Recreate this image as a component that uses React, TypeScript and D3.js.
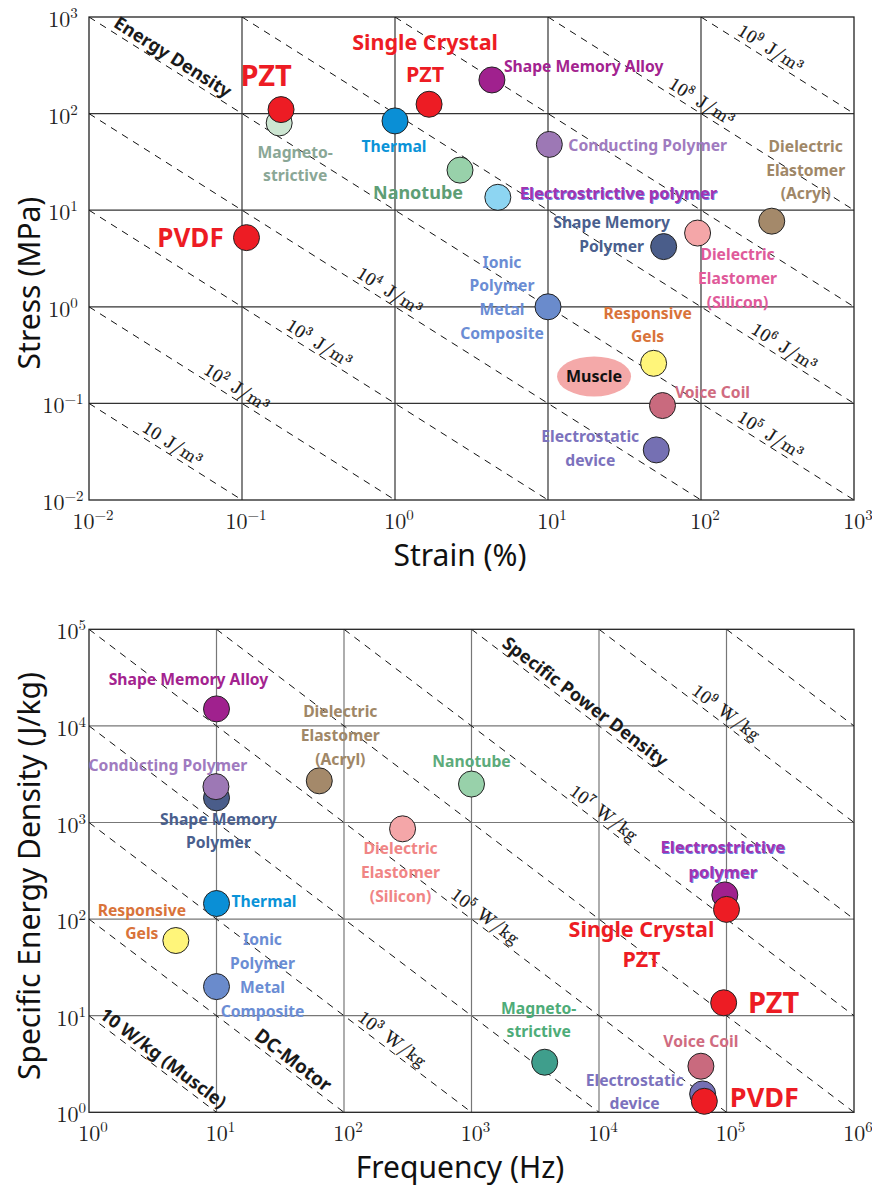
import * as d3 from "d3";

const W = 872;
const H = 1190;

// ---------- top panel: stress vs strain ----------
const topNames = [
  "Magnetostrictive", "PZT", "Thermal", "Single Crystal PZT", "Shape Memory Alloy",
  "Conducting Polymer", "Nanotube", "Electrostrictive Polymer", "Dielectric Elastomer (Acryl)",
  "Dielectric Elastomer (Silicon)", "Shape Memory Polymer", "PVDF",
  "Ionic Polymer Metal Composite", "Responsive Gels", "Voice Coil", "Electrostatic Device",
];
const topStrain = [0.175, 0.18, 1.0, 1.67, 4.3, 10.2, 2.66, 4.7, 290, 95, 57, 0.107, 10, 49, 56, 51];
const topStress = [80, 110, 84, 125, 223, 48, 26, 13.6, 7.7, 5.8, 4.2, 5.2, 1.0, 0.26, 0.095, 0.033];
const muscleStrain = 20;
const muscleStress = 0.19;
// energy density lines, J/m^3 (strain% * MPa * 1e4)
const energyLevels = [1e1, 1e2, 1e3, 1e4, 1e5, 1e6, 1e7, 1e8, 1e9];
const topTicks = [1e-2, 1e-1, 1e0, 1e1, 1e2, 1e3];

// ---------- bottom panel: specific energy vs frequency ----------
const botNames = [
  "Shape Memory Polymer", "Conducting Polymer", "Shape Memory Alloy", "Dielectric Elastomer (Acryl)",
  "Dielectric Elastomer (Silicon)", "Nanotube", "Thermal", "Responsive Gels",
  "Ionic Polymer Metal Composite", "Electrostrictive Polymer", "Single Crystal PZT", "PZT",
  "Magnetostrictive", "Voice Coil", "Electrostatic Device", "PVDF",
];
const botFreq = [10, 9.9, 10, 64, 288, 1000, 10, 4.8, 10, 97000, 100000, 95000, 3750, 63000, 65000, 67000];
const botEnergy = [1800, 2350, 15000, 2700, 860, 2500, 145, 60, 20, 178, 126, 13.6, 3.3, 3.0, 1.55, 1.3];
// specific power lines, W/kg
const powerLevels = [1e1, 1e2, 1e3, 1e4, 1e5, 1e6, 1e7, 1e8, 1e9, 1e10];
const botXTicks = [1e0, 1e1, 1e2, 1e3, 1e4, 1e5, 1e6];
const botYTicks = [1e0, 1e1, 1e2, 1e3, 1e4, 1e5];

// ---------- styles ----------
const RED = "#ed1c24";
const fill: Record<string, string> = {
  "PZT": RED, "Single Crystal PZT": RED, "PVDF": RED,
  "Thermal": "#0a8fd6", "Shape Memory Alloy": "#a0218e", "Conducting Polymer": "#9d78b5",
  "Nanotube": "#98d1aa", "Dielectric Elastomer (Acryl)": "#a4896a",
  "Dielectric Elastomer (Silicon)": "#f4a6a8", "Shape Memory Polymer": "#4a5d8a",
  "Ionic Polymer Metal Composite": "#6a8bcc", "Responsive Gels": "#fff57a",
  "Voice Coil": "#c96a7e", "Electrostatic Device": "#7570b3",
};
const topFill: Record<string, string> = { ...fill, "Magnetostrictive": "#cde6d2", "Electrostrictive Polymer": "#8dd5f2" };
const botFill: Record<string, string> = { ...fill, "Magnetostrictive": "#3f9e8c", "Electrostrictive Polymer": "#a0218e" };

type Lab = { lines: string[]; dx: number; dy: number; color: string; size?: number; lh?: number; anchor?: string; shadow?: boolean };

const topLabels: Record<string, Lab> = {
  "PZT": { lines: ["PZT"], dx: -15, dy: -34, color: RED, size: 29 },
  "Single Crystal PZT": { lines: ["Single Crystal", "PZT"], dx: -4, dy: -46, color: RED, size: 21.5, lh: 32 },
  "Magnetostrictive": { lines: ["Magneto-", "strictive"], dx: 16, dy: 41, color: "#8aa796", lh: 23 },
  "Thermal": { lines: ["Thermal"], dx: -1, dy: 26, color: "#0a93d8" },
  "Nanotube": { lines: ["Nanotube"], dx: -42, dy: 23, color: "#5e9e75", size: 18 },
  "Shape Memory Alloy": { lines: ["Shape Memory Alloy"], dx: 12, dy: -13, color: "#a3238f", anchor: "start" },
  "Conducting Polymer": { lines: ["Conducting Polymer"], dx: 19, dy: 1, color: "#a07bbf", anchor: "start" },
  "Electrostrictive Polymer": { lines: ["Electrostrictive polymer"], dx: 22, dy: -4, color: "#a134b0", anchor: "start", shadow: true, size: 16.5 },
  "Dielectric Elastomer (Acryl)": { lines: ["Dielectric", "Elastomer", "(Acryl)"], dx: 34, dy: -51, color: "#a08767", lh: 23.5 },
  "Dielectric Elastomer (Silicon)": { lines: ["Dielectric", "Elastomer", "(Silicon)"], dx: 40, dy: 45, color: "#e05a9a", lh: 24 },
  "Shape Memory Polymer": { lines: ["Shape Memory", "Polymer"], dx: -52, dy: -12, color: "#4a5f8e", lh: 24 },
  "PVDF": { lines: ["PVDF"], dx: -56, dy: 0, color: RED, size: 26 },
  "Ionic Polymer Metal Composite": { lines: ["Ionic", "Polymer", "Metal", "Composite"], dx: -46, dy: -9, color: "#6b8dd4", lh: 23.7 },
  "Responsive Gels": { lines: ["Responsive", "Gels"], dx: -6, dy: -38, color: "#d9733a", lh: 23 },
  "Voice Coil": { lines: ["Voice Coil"], dx: 50, dy: -13, color: "#d06b80" },
  "Electrostatic Device": { lines: ["Electrostatic", "device"], dx: -66, dy: -1, color: "#7c72bd", lh: 24 },
};

const botLabels: Record<string, Lab> = {
  "Shape Memory Alloy": { lines: ["Shape Memory Alloy"], dx: -28, dy: -29, color: "#a3238f" },
  "Conducting Polymer": { lines: ["Conducting Polymer"], dx: -48, dy: -21, color: "#a07bbf" },
  "Shape Memory Polymer": { lines: ["Shape Memory", "Polymer"], dx: 2, dy: 33, color: "#4a5f8e", lh: 23.5 },
  "Dielectric Elastomer (Acryl)": { lines: ["Dielectric", "Elastomer", "(Acryl)"], dx: 21, dy: -45, color: "#a08767", lh: 24 },
  "Dielectric Elastomer (Silicon)": { lines: ["Dielectric", "Elastomer", "(Silicon)"], dx: -2, dy: 43.5, color: "#f08585", lh: 24 },
  "Nanotube": { lines: ["Nanotube"], dx: 0, dy: -23, color: "#5dab7b" },
  "Thermal": { lines: ["Thermal"], dx: 15, dy: -2, color: "#0a93d8", anchor: "start" },
  "Responsive Gels": { lines: ["Responsive", "Gels"], dx: -34, dy: -18.5, color: "#d9733a", lh: 23 },
  "Ionic Polymer Metal Composite": { lines: ["Ionic", "Polymer", "Metal", "Composite"], dx: 46, dy: -11.5, color: "#6b8dd4", lh: 24 },
  "Electrostrictive Polymer": { lines: ["Electrostrictive", "polymer"], dx: -2, dy: -35, color: "#a134b0", lh: 25, shadow: true, size: 16.5 },
  "Single Crystal PZT": { lines: ["Single Crystal", "PZT"], dx: -85, dy: 35, color: RED, size: 21.5, lh: 30 },
  "PZT": { lines: ["PZT"], dx: 50, dy: 0, color: RED, size: 29 },
  "Magnetostrictive": { lines: ["Magneto-", "strictive"], dx: -6, dy: -42.5, color: "#4eac78", lh: 23 },
  "Voice Coil": { lines: ["Voice Coil"], dx: 0, dy: -25, color: "#d06b80" },
  "Electrostatic Device": { lines: ["Electrostatic", "device"], dx: -68, dy: -1.5, color: "#7c72bd", lh: 23 },
  "PVDF": { lines: ["PVDF"], dx: 60, dy: -4, color: RED, size: 27 },
};

// line labels: level -> log10(x) where the label sits on its line
type LineLab = { level: number; at: number; exp?: number; unit?: string; text?: string };
const topLineLabels: LineLab[] = [
  { level: 1e1, at: -1.49, text: "10 J/m³" },
  { level: 1e2, at: -1.07, exp: 2, unit: " J/m³" },
  { level: 1e3, at: -0.53, exp: 3, unit: " J/m³" },
  { level: 1e4, at: -0.07, exp: 4, unit: " J/m³" },
  { level: 1e5, at: 2.42, exp: 5, unit: " J/m³" },
  { level: 1e6, at: 2.51, exp: 6, unit: " J/m³" },
  { level: 1e8, at: 1.97, exp: 8, unit: " J/m³" },
  { level: 1e9, at: 2.42, exp: 9, unit: " J/m³" },
];
const botLineLabels: LineLab[] = [
  { level: 1e3, at: 2.33, exp: 3, unit: " W/kg" },
  { level: 1e5, at: 3.06, exp: 5, unit: " W/kg" },
  { level: 1e7, at: 3.99, exp: 7, unit: " W/kg" },
  { level: 1e9, at: 4.95, exp: 9, unit: " W/kg" },
];

const SANS = "'Comic Sans MS', 'Noto Sans', sans-serif";
const SERIF = "'Latin Modern Roman', 'Liberation Serif', serif";

function Label({ x, y, l }: { x: number; y: number; l: Lab }) {
  const size = l.size ?? 15.7;
  const lh = l.lh ?? 22;
  const n = l.lines.length;
  const anchor = l.anchor ?? "middle";
  const rows = (ox: number, oy: number, color: string) =>
    l.lines.map((s, i) => (
      <text key={i} x={x + l.dx + ox} y={y + l.dy + (i - (n - 1) / 2) * lh + oy} dy="0.35em"
        textAnchor={anchor} fontSize={size} fontWeight="bold" fontFamily={SANS} fill={color}>{s}</text>
    ));
  return (
    <g>
      {l.shadow && rows(0.8, 0.8, "#6a7fe0")}
      {rows(0, 0, l.color)}
    </g>
  );
}

function Pow10({ x, y, e, anchor }: { x: number; y: number; e: number; anchor: string }) {
  const s = e < 0 ? "−" + Math.abs(e) : String(e);
  return (
    <text x={x} y={y} textAnchor={anchor} fontFamily={SERIF} fontSize={22} fill="#222">
      10<tspan dy={-9} fontSize={15}>{s}</tspan>
    </text>
  );
}

function Panel(props: {
  top: number; xDom: [number, number]; yDom: [number, number];
  xTicks: number[]; yTicks: number[]; names: string[]; xs: number[]; ys: number[];
  fills: Record<string, string>; labels: Record<string, Lab>; levels: number[]; levelScale: number;
  lineLabels: LineLab[]; extra: { level: number; at: number; text: string; size: number }[];
  yTickCenter: boolean; gridColor: string; xTitle: string; yTitle: string; yTitleY: number; clip: string;
  muscle?: boolean;
}) {
  const left = 89, right = 854, h = 483;
  const x = d3.scaleLog().domain(props.xDom).range([left, right]);
  const y = d3.scaleLog().domain(props.yDom).range([props.top + h, props.top]);
  const [x0, x1] = props.xDom;
  const [y0, y1] = props.yDom;

  const dashed = props.levels.map((lv) => {
    const c = lv / props.levelScale;
    const xa = Math.max(x0, c / y1);
    const xb = Math.min(x1, c / y0);
    if (xa >= xb) return null;
    return { c, xa, xb };
  }).filter(Boolean) as { c: number; xa: number; xb: number }[];

  const onLine = (level: number, at: number) => {
    const c = level / props.levelScale;
    const xv = Math.pow(10, at);
    const px = x(xv), py = y(c / xv);
    const ang = Math.atan2(y(c / (xv * 10)) - py, x(xv * 10) - px) * 180 / Math.PI;
    return { px, py, ang };
  };

  return (
    <g>
      <defs>
        <clipPath id={props.clip}><rect x={left} y={props.top} width={right - left} height={h} /></clipPath>
      </defs>
      {props.xTicks.slice(1, -1).map((t) => (
        <line key={"gx" + t} x1={x(t)} x2={x(t)} y1={props.top} y2={props.top + h} stroke={props.gridColor} strokeWidth={1.2} />
      ))}
      {props.yTicks.slice(1, -1).map((t) => (
        <line key={"gy" + t} x1={left} x2={right} y1={y(t)} y2={y(t)} stroke={props.gridColor} strokeWidth={1.2} />
      ))}
      <g clipPath={`url(#${props.clip})`}>
        {dashed.map((d) => (
          <line key={"d" + d.c} x1={x(d.xa)} y1={y(d.c / d.xa)} x2={x(d.xb)} y2={y(d.c / d.xb)}
            stroke="#111" strokeWidth={1} strokeDasharray="7,6" />
        ))}
      </g>
      <rect x={left} y={props.top} width={right - left} height={h} fill="none" stroke="#222" strokeWidth={1.3} />

      {props.lineLabels.map((ll, i) => {
        const p = onLine(ll.level, ll.at);
        return (
          <g key={"ll" + i} transform={`translate(${p.px},${p.py}) rotate(${p.ang})`}>
            <text y={-11} dy="0.35em" textAnchor="middle" fontFamily={SERIF} fontSize={18} fill="#111" letterSpacing={0.5}
              stroke="#111" strokeWidth={0.3}>
              {ll.text ? ll.text : (<>10<tspan dy={-7} fontSize={12}>{ll.exp}</tspan><tspan dy={7}>{ll.unit}</tspan></>)}
            </text>
          </g>
        );
      })}
      {props.extra.map((e, i) => {
        const p = onLine(e.level, e.at);
        return (
          <g key={"ex" + i} transform={`translate(${p.px},${p.py}) rotate(${p.ang})`}>
            <text y={-11} dy="0.35em" textAnchor="middle" fontFamily={SANS} fontWeight="bold" fontSize={e.size} fill="#1a1a1a">{e.text}</text>
          </g>
        );
      })}

      {props.muscle && (
        <g>
          <ellipse cx={x(muscleStrain)} cy={y(muscleStress)} rx={37} ry={20} fill="#f4a9a9" />
          <text x={x(muscleStrain)} y={y(muscleStress)} dy="0.35em" textAnchor="middle" fontFamily={SANS} fontWeight="bold" fontSize={16} fill="#111">Muscle</text>
        </g>
      )}

      {props.names.map((n, i) => (
        <circle key={"c" + n} cx={x(props.xs[i])} cy={y(props.ys[i])} r={13} fill={props.fills[n]} stroke="#222" strokeWidth={1} />
      ))}
      {props.names.map((n, i) => (
        <Label key={"l" + n} x={x(props.xs[i])} y={y(props.ys[i])} l={props.labels[n]} />
      ))}

      {props.xTicks.map((t) => (
        <Pow10 key={"tx" + t} x={x(t) + 4} y={props.top + h + 29} e={Math.round(Math.log10(t))} anchor="middle" />
      ))}
      {props.yTicks.map((t) => (
        <Pow10 key={"ty" + t} x={props.yTickCenter ? 63 : 86} y={y(t) + 10} e={Math.round(Math.log10(t))}
          anchor={props.yTickCenter ? "middle" : "end"} />
      ))}
      <text x={460} y={props.top + h + 66} textAnchor="middle" fontFamily={SANS} fontSize={30} fill="#111">{props.xTitle}</text>
      <text transform={`translate(29,${props.yTitleY}) rotate(-90)`} dy="0.35em" textAnchor="middle" fontFamily={SANS} fontSize={30} fill="#111">{props.yTitle}</text>
    </g>
  );
}

export default function App() {
  return (
    <svg width={W} height={H} style={{ position: "absolute", left: 0, top: 0, background: "#fff" }}>
      <rect width={W} height={H} fill="#fff" />
      <Panel top={17} xDom={[1e-2, 1e3]} yDom={[1e-2, 1e3]} xTicks={topTicks} yTicks={topTicks}
        names={topNames} xs={topStrain} ys={topStress} fills={topFill} labels={topLabels}
        levels={energyLevels} levelScale={1e4} lineLabels={topLineLabels}
        extra={[{ level: 1e5, at: -1.49, text: "Energy Density", size: 18 }]}
        yTickCenter={true} gridColor="#333" xTitle="Strain (%)" yTitle="Stress (MPa)" yTitleY={283} clip="clipTop" muscle />
      <Panel top={629.3} xDom={[1e0, 1e6]} yDom={[1e0, 1e5]} xTicks={botXTicks} yTicks={botYTicks}
        names={botNames} xs={botFreq} ys={botEnergy} fills={botFill} labels={botLabels}
        levels={powerLevels} levelScale={1} lineLabels={botLineLabels}
        extra={[
          { level: 1e1, at: 0.53, text: "10 W/kg (Muscle)", size: 18 },
          { level: 1e2, at: 1.55, text: "DC-Motor", size: 19 },
          { level: 1e8, at: 3.84, text: "Specific Power Density", size: 18 },
        ]}
        yTickCenter={false} gridColor="#777" xTitle="Frequency (Hz)" yTitle="Specific Energy Density (J/kg)" yTitleY={876} clip="clipBot" />
    </svg>
  );
}
